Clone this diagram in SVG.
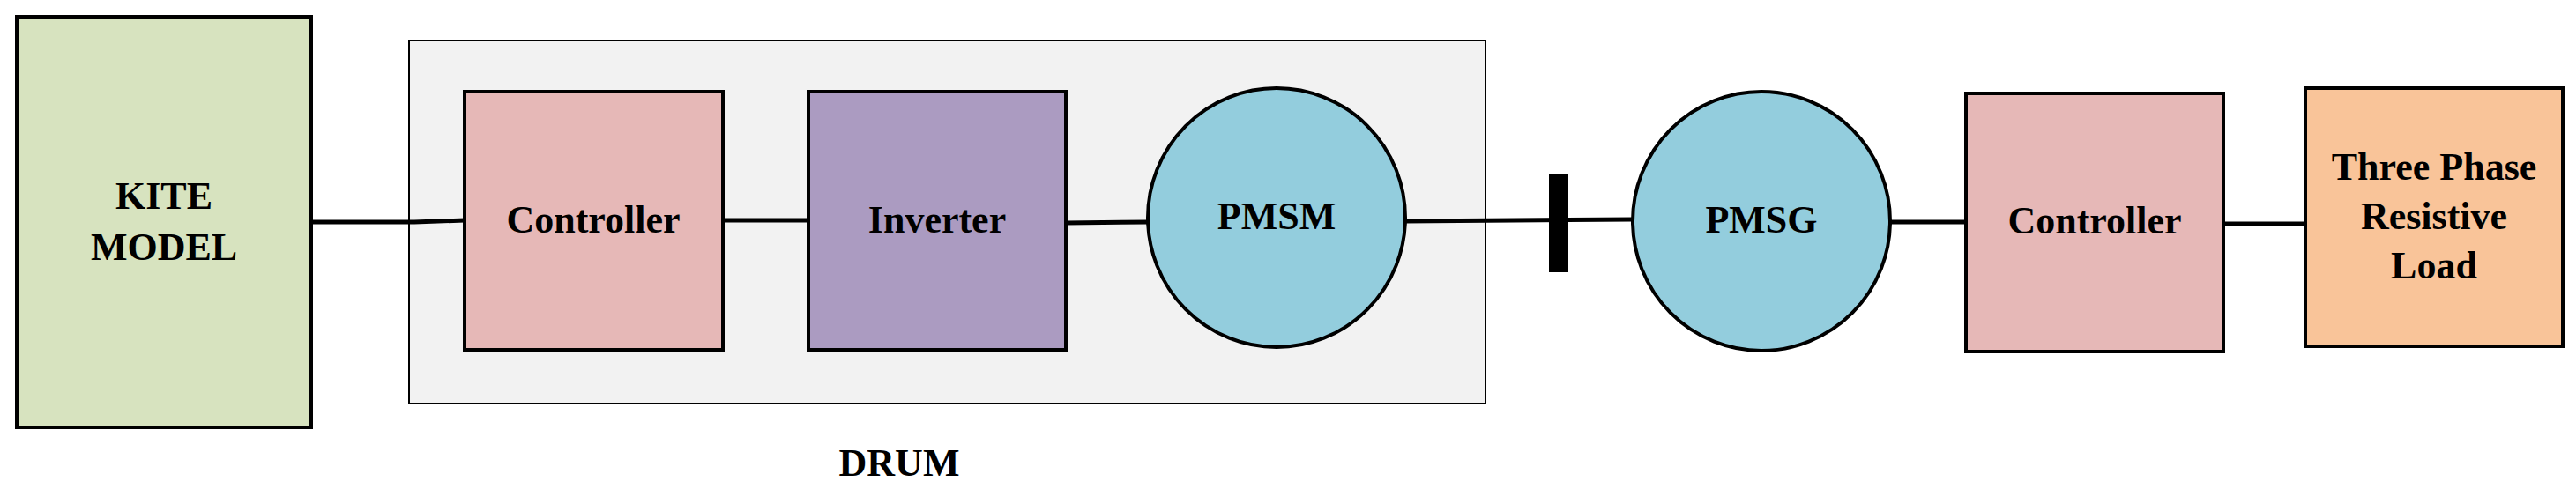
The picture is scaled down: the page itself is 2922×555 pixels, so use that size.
<svg xmlns="http://www.w3.org/2000/svg" width="2922" height="555" viewBox="0 0 2922 555">
<style>
.b{stroke:#000;stroke-width:4}
.t{font-family:"Liberation Serif",serif;font-weight:bold;font-size:44px;text-anchor:middle;fill:#000}
.c{stroke:#000;stroke-width:5;fill:none}
</style>
<rect width="2922" height="555" fill="#fff"/>
<g id="drum"><rect x="464" y="46" width="1221" height="412" fill="#f2f2f2" stroke="#000" stroke-width="2"/><text class="t" x="1020" y="540">DRUM</text></g>
<g id="connectors">
<path class="c" d="M353 252H470L527 250"/>
<path class="c" d="M820 250H917"/>
<path class="c" d="M1209 253L1302 252"/>
<path class="c" d="M1593 251L1852 249"/>
<path class="c" d="M2144 252H2230"/>
<path class="c" d="M2522 254H2615"/>
<rect x="1757" y="197" width="22" height="112" fill="#000"/>
</g>
<g id="kite"><rect class="b" x="19" y="19" width="334" height="466" fill="#d7e3bf"/><text class="t" x="186" y="237">KITE</text><text class="t" x="186" y="295">MODEL</text></g>
<g id="controller1"><rect class="b" x="527" y="104" width="293" height="293" fill="#e6b8b7"/><text class="t" x="673" y="264">Controller</text></g>
<g id="inverter"><rect class="b" x="917" y="104" width="292" height="293" fill="#ab9bc1"/><text class="t" x="1063" y="264">Inverter</text></g>
<g id="pmsm"><ellipse class="b" cx="1448" cy="247" rx="146" ry="147" fill="#93cddd" stroke-width="5"/><text class="t" x="1448" y="260">PMSM</text></g>
<g id="pmsg"><ellipse class="b" cx="1998" cy="251" rx="146" ry="147" fill="#93cddd" stroke-width="5"/><text class="t" x="1998" y="264">PMSG</text></g>
<g id="controller2"><rect class="b" x="2230" y="106" width="292" height="293" fill="#e6b8b7"/><text class="t" x="2376" y="265">Controller</text></g>
<g id="load"><rect class="b" x="2615" y="100" width="292" height="293" fill="#f9c499"/><text class="t" x="2761" y="204">Three Phase</text><text class="t" x="2761" y="260">Resistive</text><text class="t" x="2761" y="316">Load</text></g>
</svg>
